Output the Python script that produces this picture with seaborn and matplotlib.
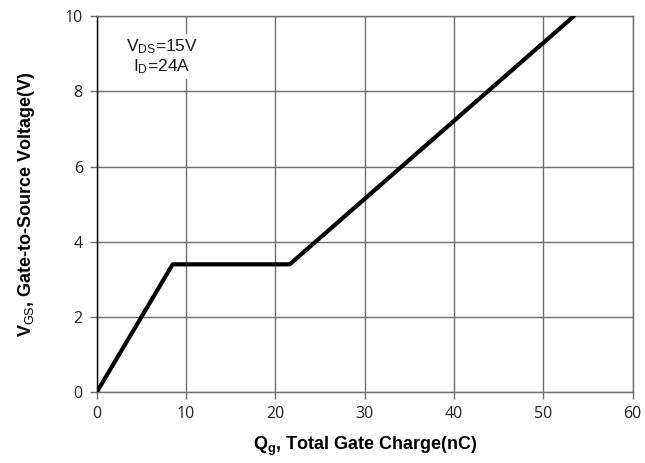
import matplotlib
matplotlib.use("Agg")
import matplotlib.pyplot as plt
import seaborn as sns
import pandas as pd

# Gate charge curve: VGS vs total gate charge
qg_nc = [0.0, 8.5, 21.6, 53.4]
vgs_v = [0.0, 3.4, 3.4, 10.0]
x_ticks = [0, 10, 20, 30, 40, 50, 60]
y_ticks = [0, 2, 4, 6, 8, 10]

sns.set_theme(style="white")
plt.rcParams["font.family"] = ["Liberation Sans", "DejaVu Sans"]
plt.rcParams["mathtext.fontset"] = "custom"
plt.rcParams["mathtext.rm"] = "Liberation Sans"
plt.rcParams["mathtext.it"] = "Liberation Sans"
plt.rcParams["mathtext.bf"] = "Liberation Sans:bold"

df = pd.DataFrame({"Qg": qg_nc, "VGS": vgs_v})

fig = plt.figure(figsize=(6.45, 4.63), dpi=100)
ax = fig.add_axes([0.150, 0.153, 0.831, 0.812])

ax.set_xlim(0, 60)
ax.set_ylim(0, 10)
ax.set_xticks(x_ticks)
ax.set_yticks(y_ticks)
ax.grid(True, color="#6e6e6e", linewidth=1.0)
ax.set_axisbelow(True)

sns.lineplot(data=df, x="Qg", y="VGS", ax=ax, color="black", linewidth=3.0,
             sort=False, estimator=None, zorder=3)

for side in ["top", "right", "bottom"]:
    ax.spines[side].set_color("#6e6e6e")
    ax.spines[side].set_linewidth(1.0)
ax.spines["left"].set_color("black")
ax.spines["left"].set_linewidth(1.0)

ax.tick_params(axis="both", which="major", direction="out", length=5, width=1.0,
               color="#6e6e6e", labelsize=11.5, labelcolor="#222222", pad=5,
               left=True, bottom=True)
for lbl in ax.get_xticklabels() + ax.get_yticklabels():
    lbl.set_family(["Open Sans", "DejaVu Sans"])

ax.set_xlabel(r"$\mathbf{Q}_{\mathbf{g}}$, Total Gate Charge(nC)", fontsize=13,
              fontweight="bold", color="black", labelpad=9)
ax.set_ylabel(r"$\mathbf{V}_{\mathrm{GS}}$, Gate-to-Source Voltage(V)", fontsize=13,
              fontweight="bold", color="black", labelpad=20)

ax.text(7.3, 8.93, "$\\mathrm{V_{DS}}$=15V\n$\\mathrm{I_D}$=24A", ha="center", va="center",
        fontsize=12.5, color="#1a1a1a", linespacing=1.1,
        bbox=dict(facecolor="white", edgecolor="none", pad=2), zorder=4)

fig.savefig("out.png", dpi=100)
